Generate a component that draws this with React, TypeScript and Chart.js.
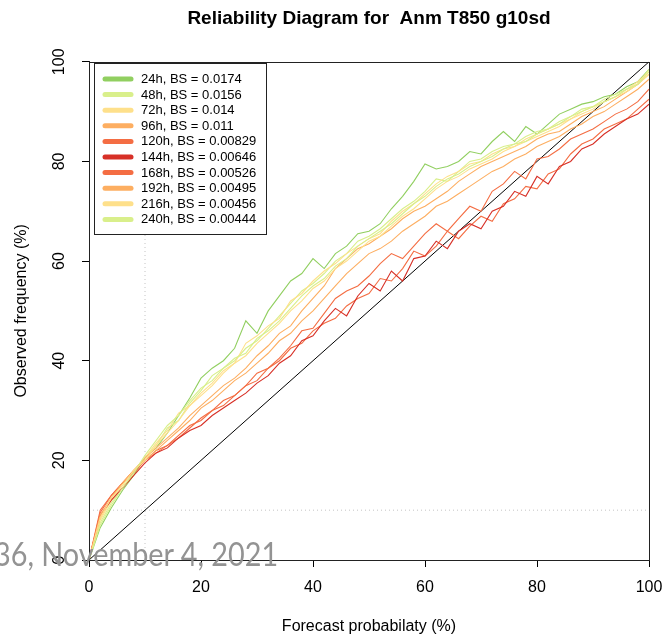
import React, { useEffect, useRef } from "react";
import { Chart, registerables } from "chart.js";
Chart.register(...registerables);

const chartTitle = "Reliability Diagram for  Anm T850 g10sd";
const xAxisTitle = "Forecast probabilaty (%)";
const yAxisTitle = "Observed frequency (%)";
const footerText = "36, November 4, 2021";

const probBins = [0, 2, 4, 6, 8, 10, 12, 14, 16, 18, 20, 22, 24, 26, 28, 30, 32, 34, 36, 38, 40, 42, 44, 46, 48, 50, 52, 54, 56, 58, 60, 62, 64, 66, 68, 70, 72, 74, 76, 78, 80, 82, 84, 86, 88, 90, 92, 94, 96, 98, 100];
const yTickValues = [0, 20, 40, 60, 80, 100];

const leadLabels = ["24h", "48h", "72h", "96h", "120h", "144h", "168h", "192h", "216h", "240h"];
const brierScores = ["0.0174", "0.0156", "0.014", "0.011", "0.00829", "0.00646", "0.00526", "0.00495", "0.00456", "0.00444"];
const leadColors = ["#91CF60", "#D9EF8B", "#FEE08B", "#FDAE61", "#F46D43", "#D73027", "#F46D43", "#FDAE61", "#FEE08B", "#D9EF8B"];

const obs24h = [0, 6.5, 10.5, 14, 17, 20.5, 22.5, 25.5, 29, 32.5, 36.5, 38.5, 40, 42.5, 48, 45.5, 50, 53, 56, 57.5, 60.5, 58.5, 61.5, 63, 65.5, 66, 67.5, 70.5, 73, 76, 79.5, 78.5, 79, 80, 82, 81.5, 84, 86, 84, 87, 85.5, 87.5, 89.5, 90.5, 91.5, 92, 93, 93.5, 95, 96, 98.5];
const obs48h = [0, 7.5, 11.5, 14.5, 17.5, 20.5, 23, 26.5, 28, 31.5, 34, 37, 38.5, 40, 42.5, 44, 46.5, 49, 51.5, 54, 55.5, 57.5, 60, 61.5, 64, 65, 66.5, 68.5, 70.5, 72, 74, 76.5, 76, 78, 80, 80.5, 82, 83, 83.5, 85, 86, 86.5, 88, 89, 90.5, 91, 92.5, 93.5, 94.5, 95.5, 98.5];
const obs72h = [0, 8, 12, 15, 18, 20.5, 23.5, 26, 29.5, 31, 33.5, 35.5, 38, 39.5, 43.5, 45, 47, 48.5, 52, 53.5, 56, 58, 59.5, 61.5, 63, 64.5, 65.5, 68, 70, 71.5, 73.5, 75.5, 77, 78, 79.5, 80, 81.5, 82.5, 83, 84.5, 85.5, 86.5, 87.5, 88.5, 90, 91, 92, 93, 94.5, 96, 98];
const obs96h = [0, 8.5, 12.5, 15.5, 18, 20.5, 22.5, 24.5, 26.5, 29, 31, 33, 35, 36.5, 38.5, 41, 43, 45.5, 47, 50, 52.5, 55, 58.5, 60.5, 62.5, 63.5, 65, 66.5, 68.5, 70, 71, 72.5, 74, 76, 77.5, 79, 80, 81, 82, 83, 84.5, 85.5, 86, 87.5, 89, 90, 91, 92.5, 94, 95.5, 97.5];
const obs120h = [0, 9.5, 13, 15.5, 18, 20, 21.5, 23, 24.5, 26.5, 28.5, 30, 31, 33, 35, 36, 38.5, 40, 42.5, 43.5, 46, 47.5, 48.5, 51, 52.5, 53.5, 56.5, 56, 58.5, 62, 61, 63, 66, 64.5, 67, 69, 68, 71.5, 72.5, 75, 74.5, 77.5, 78.5, 81.5, 83.5, 84.5, 86.5, 87.5, 88.5, 90.5, 92.5];
const obs144h = [0, 9, 12, 14.5, 17, 19.5, 21.5, 22.5, 24.5, 26, 27, 29, 30.5, 32, 33.5, 35.5, 37, 39.5, 41, 44, 45, 48, 50.5, 49, 53, 55.5, 54, 58, 56, 60.5, 61, 64, 62.5, 66, 67.5, 66.5, 70, 71, 74, 73, 77, 75.5, 79, 80, 82.5, 83.5, 85.5, 87, 88.5, 89.5, 91.5];
const obs168h = [0, 10, 13, 15.5, 17.5, 20, 22, 23, 25, 27, 28, 30, 32, 33, 35, 37.5, 38.5, 40.5, 43, 46, 46.5, 49.5, 52.5, 54, 55, 57, 59.5, 61.5, 60.5, 63, 65.5, 67.5, 66, 68.5, 71, 70, 74, 75.5, 78, 76.5, 80.5, 81, 82.5, 84.5, 85.5, 86.5, 88, 89.5, 90.5, 92, 94.5];
const obs192h = [0, 9, 12.5, 15.5, 18, 20, 22, 24, 26, 28, 30.5, 32, 34, 36, 37.5, 39.5, 41.5, 44, 45.5, 48, 50, 52.5, 55, 57.5, 59.5, 61.5, 62.5, 64, 66, 67.5, 69, 71, 72, 73.5, 75, 76.5, 78, 79, 80.5, 81.5, 83, 84, 85, 86.5, 87.5, 89, 90, 91.5, 93, 94.5, 96.5];
const obs216h = [0, 8.5, 12.5, 15, 18, 20, 23, 25.5, 28, 31, 33, 35, 37.5, 39.5, 41, 43.5, 45.5, 47.5, 50, 52, 54.5, 56, 58.5, 60, 62, 64, 65, 67, 69, 70.5, 72.5, 74.5, 76, 77, 78.5, 79.5, 80.5, 82, 83, 84, 85, 86, 87, 88.5, 89.5, 90.5, 92, 93, 94, 95.5, 97.5];
const obs240h = [0, 7, 11, 14.5, 17.5, 21, 24, 27, 29, 32, 34.5, 36, 38.5, 40.5, 41.5, 44.5, 46, 48, 50.5, 53, 55, 56.5, 59, 60.5, 63, 64.5, 66, 67.5, 69.5, 71.5, 73, 75, 76.5, 77.5, 79, 80, 81, 82.5, 83.5, 84, 85.5, 86.5, 87.5, 89, 90, 91, 92, 93, 94.5, 95.5, 98];

const seriesValues = [obs24h, obs48h, obs72h, obs96h, obs120h, obs144h, obs168h, obs192h, obs216h, obs240h];

const climatology = 10;

const FONT = "'Liberation Sans', Arial, sans-serif";

const boxPlugin = {
  id: "rBox",
  afterDraw(chart: any) {
    const ctx = chart.ctx;
    const a = chart.chartArea;
    ctx.save();
    ctx.strokeStyle = "#222";
    ctx.lineWidth = 1;
    ctx.strokeRect(Math.round(a.left) + 0.5, Math.round(a.top) + 0.5, Math.round(a.right - a.left), Math.round(a.bottom - a.top));
    const ys = chart.scales.y;
    ctx.fillStyle = "#000";
    ctx.font = "16px " + FONT;
    ctx.textAlign = "center";
    ctx.textBaseline = "middle";
    yTickValues.forEach((v) => {
      const py = ys.getPixelForValue(v);
      ctx.save();
      ctx.translate(60, py);
      ctx.rotate(-Math.PI / 2);
      ctx.fillText(String(v), 0, 0);
      ctx.restore();
    });
    const lx = 94.5, ly = 63.5, lw = 172, lh = 171;
    ctx.fillStyle = "#fff";
    ctx.fillRect(lx, ly, lw, lh);
    ctx.strokeStyle = "#222";
    ctx.lineWidth = 1;
    ctx.strokeRect(lx, ly, lw, lh);
    ctx.font = "13px " + FONT;
    ctx.textAlign = "left";
    ctx.textBaseline = "middle";
    leadLabels.forEach((lab, i) => {
      const yy = 79 + i * 15.6;
      ctx.strokeStyle = leadColors[i];
      ctx.lineWidth = 5;
      ctx.lineCap = "round";
      ctx.beginPath();
      ctx.moveTo(105, yy);
      ctx.lineTo(131, yy);
      ctx.stroke();
      ctx.fillStyle = "#000";
      ctx.fillText(lab + ", BS = " + brierScores[i], 141, yy + 0.5);
    });
    ctx.restore();
  },
};

export default function App() {
  const ref = useRef<HTMLCanvasElement>(null);
  useEffect(() => {
    if (!ref.current) return;
    const datasets: any[] = [];
    datasets.push({
      label: "climatology-x",
      data: [{ x: climatology, y: 0 }, { x: climatology, y: 100 }],
      borderColor: "#c4c4c4",
      borderWidth: 1,
      borderDash: [1, 3],
      pointRadius: 0,
      order: 300,
    });
    datasets.push({
      label: "climatology-y",
      data: [{ x: 0, y: climatology }, { x: 100, y: climatology }],
      borderColor: "#c4c4c4",
      borderWidth: 1,
      borderDash: [1, 3],
      pointRadius: 0,
      order: 300,
    });
    datasets.push({
      label: "diagonal",
      data: [{ x: 0, y: 0 }, { x: 100, y: 100 }],
      borderColor: "#000",
      borderWidth: 1,
      pointRadius: 0,
      order: 200,
    });
    seriesValues.forEach((vals, i) => {
      datasets.push({
        label: leadLabels[i],
        data: probBins.map((x, j) => ({ x, y: vals[j] })),
        borderColor: leadColors[i],
        borderWidth: 1.1,
        pointRadius: 0,
        tension: 0,
        order: 100 - i,
      });
    });
    const chart = new Chart(ref.current, {
      type: "line",
      data: { datasets },
      options: {
        animation: false,
        responsive: false,
        devicePixelRatio: 1,
        layout: { padding: { left: 0, right: 15, top: 0, bottom: 0 } },
        plugins: {
          legend: { display: false },
          tooltip: { enabled: false },
          title: {
            display: true,
            text: chartTitle,
            fullSize: false,
            color: "#000",
            font: { size: 19, weight: "bold", family: FONT },
            padding: { top: 7, bottom: 32 },
          },
        },
        scales: {
          x: {
            type: "linear",
            min: 0,
            max: 100,
            ticks: { stepSize: 20, color: "#000", font: { size: 16, family: FONT }, padding: 11, maxRotation: 0 },
            grid: { drawOnChartArea: false, drawTicks: true, tickLength: 7, color: "#000" },
            border: { display: true, color: "#222" },
            title: { display: true, text: xAxisTitle, color: "#000", font: { size: 16, family: FONT }, padding: { top: 0, bottom: 0 } },
            afterFit(s: any) { s.height = 76; s.paddingLeft = 0; s.paddingRight = 0; },
          },
          y: {
            type: "linear",
            min: 0,
            max: 100,
            ticks: { stepSize: 20, color: "rgba(0,0,0,0)", font: { size: 16, family: FONT } },
            grid: { drawOnChartArea: false, drawTicks: true, tickLength: 7, color: "#000" },
            border: { display: true, color: "#222" },
            title: { display: true, text: yAxisTitle, color: "#000", font: { size: 16, family: FONT }, padding: { top: 12, bottom: 0 } },
            afterFit(s: any) { s.width = 89; s.paddingTop = 0; s.paddingBottom = 0; },
          },
        },
      } as any,
      plugins: [boxPlugin],
    });
    return () => chart.destroy();
  }, []);
  return (
    <div style={{ position: "absolute", left: 0, top: 0, width: 664, height: 636, background: "#fff", overflow: "hidden" }}>
      <canvas ref={ref} width={664} height={636} style={{ display: "block" }} />
      <div
        style={{
          position: "absolute",
          left: -6,
          top: 538,
          fontFamily: "Lato, 'Open Sans', sans-serif",
          fontSize: 32,
          lineHeight: 1,
          color: "#939393",
          whiteSpace: "nowrap",
          transform: "scaleX(0.9)",
          transformOrigin: "0 0",
        }}
      >
        {footerText}
      </div>
    </div>
  );
}
